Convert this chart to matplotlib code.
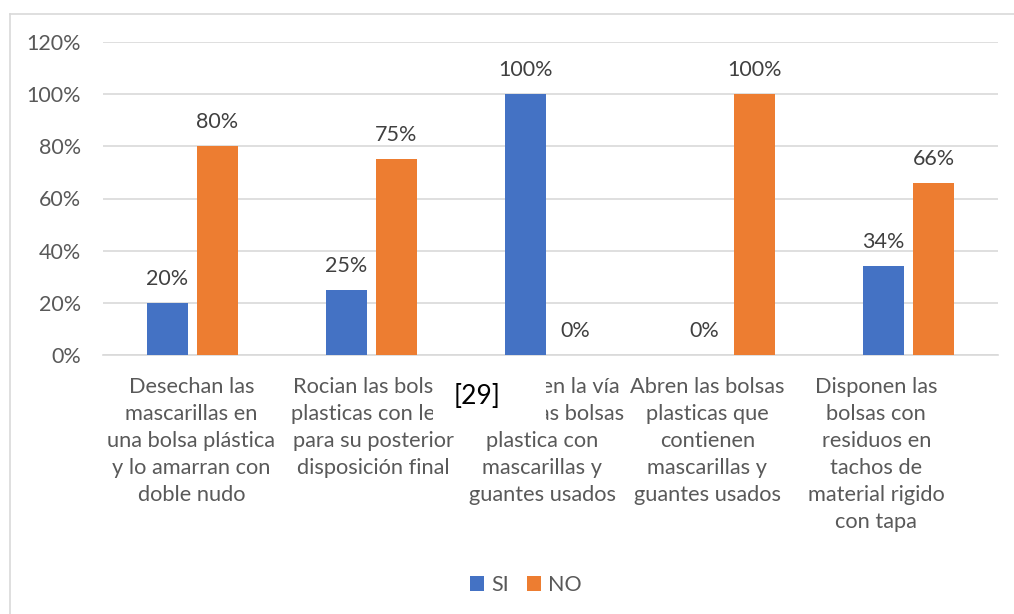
import matplotlib

matplotlib.use("Agg")

import matplotlib.pyplot as plt
import numpy as np
from matplotlib.patches import Rectangle

categories = [
    "Desechan las\nmascarillas en\nuna bolsa plástica\ny lo amarran con\ndoble nudo",
    "Rocian las bolsas\nplasticas con lejía\npara su posterior\ndisposición final",
    "Arrojan en la vía\npública las bolsas\nplastica con\nmascarillas y\nguantes usados",
    "Abren las bolsas\nplasticas que\ncontienen\nmascarillas y\nguantes usados",
    "Disponen las\nbolsas con\nresiduos en\ntachos de\nmaterial rigido\ncon tapa",
]
series_names = ["SI", "NO"]
si_values = [20, 25, 100, 0, 34]
no_values = [80, 75, 0, 100, 66]
y_ticks = [0, 20, 40, 60, 80, 100, 120]

colors = ["#4472C4", "#ED7D31"]
plt.rcParams["font.family"] = ["Lato", "DejaVu Sans"]

fig = plt.figure(figsize=(10.14, 6.14), dpi=100)
fig.patch.set_facecolor("white")
ax = fig.add_axes([103 / 1014, 1 - 355 / 614, 895 / 1014, 313 / 614])

x = np.arange(len(categories))
width = 0.225
offset = 0.14
for values, name, color, sign in zip([si_values, no_values], series_names, colors, [-1, 1]):
    bars = ax.bar(x + sign * offset, values, width, color=color, label=name, zorder=3)
    for rect, v in zip(bars, values):
        ax.text(rect.get_x() + rect.get_width() / 2, v + 9.2, f"{v}%", ha="center", va="center",
                fontsize=15.5, color="#404040")

# Excel pushed the wrapped labels a bit left on the right-hand categories
label_shift = np.array([-0.006, 0.011, -0.045, -0.123, -0.180])

ax.set_xlim(-0.5, len(categories) - 0.5)
ax.set_ylim(0, 120)
ax.set_yticks(y_ticks)
ax.set_yticklabels([f"{t}%" for t in y_ticks], fontsize=15.5, color="#595959")
ax.set_xticks(x + label_shift)
ax.set_xticklabels(categories, fontsize=15.7, color="#595959", linespacing=1.43, va="top")
ax.tick_params(axis="both", length=0)
ax.tick_params(axis="x", pad=16)
ax.tick_params(axis="y", pad=16)
ax.grid(axis="y", color="#D9D9D9", linewidth=1.2, zorder=0)
for side in ["top", "right", "left"]:
    ax.spines[side].set_visible(False)
ax.spines["bottom"].set_color("#D9D9D9")
ax.spines["bottom"].set_linewidth(1.2)

# chart frame (only top and left edges visible in the crop)
fig.add_artist(plt.Line2D([10 / 1014, 1], [1 - 14 / 614, 1 - 14 / 614], color="#D9D9D9", linewidth=1.2))
fig.add_artist(plt.Line2D([10 / 1014, 10 / 1014], [0, 1 - 14 / 614], color="#D9D9D9", linewidth=1.2))

# citation box pasted over the labels
fig.add_artist(Rectangle((433 / 1014, 1 - 428 / 614), 113 / 1014, 58 / 614,
                         transform=fig.transFigure, facecolor="white", edgecolor="none", zorder=10))
fig.text(477 / 1014, 1 - 397 / 614, "[29]", ha="center", va="center", fontsize=19, color="black", zorder=11)

ax.legend(loc="center", bbox_to_anchor=(526 / 1014, 1 - 585 / 614), bbox_transform=fig.transFigure,
          ncol=2, frameon=False, fontsize=15.5, handlelength=0.65, handleheight=0.65,
          handletextpad=0.35, columnspacing=0.8, labelcolor="#595959")

fig.savefig("out.png", dpi=100)
